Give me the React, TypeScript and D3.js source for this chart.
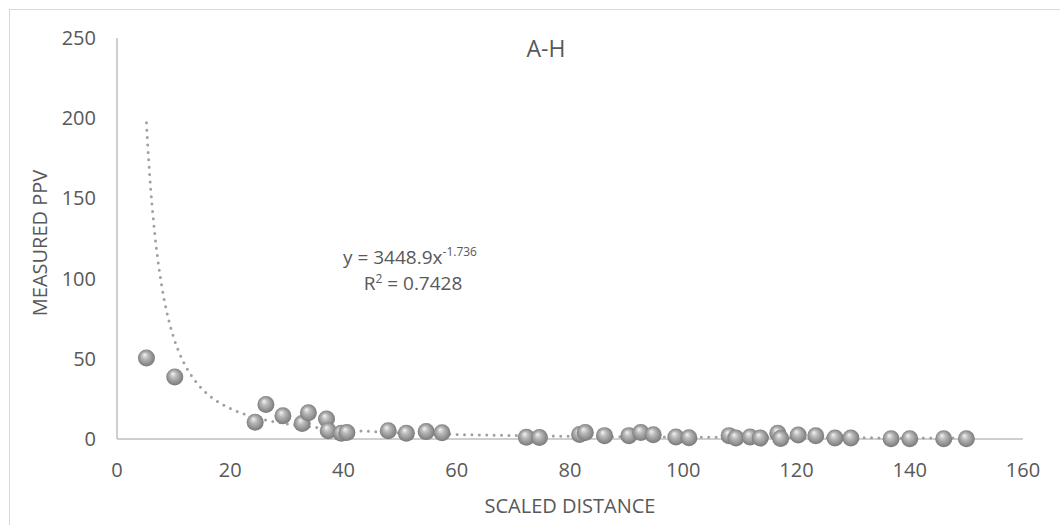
import React from "react";
import * as d3 from "d3";

// Scaled distance vs. measured peak particle velocity, site A-H
const scaledDistance = [
  5.2, 10.2, 24.4, 26.3, 29.3, 32.7, 33.8, 37.0, 37.3, 39.6, 40.6, 47.9, 51.1, 54.6, 57.4,
  72.3, 74.6, 81.7, 82.7, 86.1, 90.4, 92.5, 94.7, 98.7, 101.0, 108.1, 109.3, 111.8, 113.6,
  116.7, 117.2, 120.3, 123.4, 126.8, 129.6, 136.7, 140.0, 146.0, 150.0,
];
const measuredPpv = [
  50.5, 38.7, 10.5, 21.5, 14.5, 9.6, 16.3, 12.4, 5.2, 3.6, 4.0, 5.2, 3.6, 4.6, 3.9,
  1.1, 0.9, 2.8, 4.0, 2.1, 2.1, 4.0, 2.7, 1.3, 0.8, 2.1, 0.6, 1.3, 0.6,
  3.6, 0.3, 2.5, 2.0, 0.6, 0.6, 0.2, 0.2, 0.2, 0.1,
];
const xTicks = [0, 20, 40, 60, 80, 100, 120, 140, 160];
const yTicks = [0, 50, 100, 150, 200, 250];
// Power trendline y = a * x^b
const fitA = 3448.9;
const fitB = -1.736;
const fitR2 = 0.7428;

const title = "A-H";
const xTitle = "SCALED DISTANCE";
const yTitle = "MEASURED PPV";

const W = 1060;
const H = 525;
const FONT = "'Open Sans', 'Noto Sans', sans-serif";
const TEXT = "#595959";

export default function App() {
  const x = d3.scaleLinear().domain([0, 160]).range([117, 1023]);
  const y = d3.scaleLinear().domain([0, 250]).range([439, 38]);

  const x0 = d3.min(scaledDistance) as number;
  const x1 = d3.max(scaledDistance) as number;
  const fitPts: [number, number][] = d3
    .range(0, 401)
    .map((i) => {
      const xv = x0 * Math.pow(x1 / x0, i / 400);
      return [xv, fitA * Math.pow(xv, fitB)];
    });
  const fitPath = d3
    .line<[number, number]>()
    .x((d) => x(d[0]))
    .y((d) => y(d[1]))
    .curve(d3.curveLinear)(fitPts) as string;

  const pts = scaledDistance.map((d, i) => ({ xv: d, yv: measuredPpv[i] }));

  return (
    <svg
      width={W}
      height={H}
      style={{ position: "absolute", left: 0, top: 0, background: "#fff" }}
      fontFamily={FONT}
    >
      <defs>
        <radialGradient id="ball" cx="0.5" cy="0.5" r="0.55" fx="0.38" fy="0.3">
          <stop offset="0" stopColor="#f4f4f4" />
          <stop offset="0.35" stopColor="#bababa" />
          <stop offset="0.8" stopColor="#888888" />
          <stop offset="1" stopColor="#707070" />
        </radialGradient>
      </defs>

      <rect x={9.5} y={9.5} width={W} height={H} fill="none" stroke="#d9d9d9" strokeWidth={1} />

      {/* axes */}
      <line x1={x(0)} x2={x(0)} y1={y(0)} y2={y(250)} stroke="#bfbfbf" strokeWidth={1.5} />
      <line x1={x(0)} x2={x(160)} y1={y(0)} y2={y(0)} stroke="#bfbfbf" strokeWidth={1.5} />

      {yTicks.map((t) => (
        <text key={"y" + t} x={96} y={y(t)} dy="0.35em" textAnchor="end" fontSize={20} fill={TEXT}>
          {t}
        </text>
      ))}
      {xTicks.map((t) => (
        <text key={"x" + t} x={x(t)} y={477} textAnchor="middle" fontSize={20} fill={TEXT}>
          {t}
        </text>
      ))}

      <text x={546} y={57} textAnchor="middle" fontSize={23} fill={TEXT}>
        {title}
      </text>
      <text x={570} y={513} textAnchor="middle" fontSize={20} fill={TEXT}>
        {xTitle}
      </text>
      <text
        transform={`translate(47, 243) rotate(-90)`}
        textAnchor="middle"
        fontSize={20}
        fill={TEXT}
      >
        {yTitle}
      </text>

      {/* trendline */}
      <path
        d={fitPath}
        fill="none"
        stroke="#a0a0a0"
        strokeWidth={3}
        strokeLinecap="round"
        strokeDasharray="0 7.4"
      />

      {/* data points */}
      {pts.map((p, i) => (
        <circle key={i} cx={x(p.xv)} cy={y(p.yv)} r={8.5} fill="url(#ball)" />
      ))}

      {/* fit equation */}
      <text x={410} y={264} textAnchor="middle" fontSize={19} fill={TEXT}>
        {`y = ${fitA}x`}
        <tspan fontSize={12} dy={-8}>{`${fitB}`}</tspan>
      </text>
      <text x={413} y={290} textAnchor="middle" fontSize={19} fill={TEXT}>
        R<tspan fontSize={12} dy={-7}>2</tspan>
        <tspan dy={7}>{` = ${fitR2}`}</tspan>
      </text>
    </svg>
  );
}
